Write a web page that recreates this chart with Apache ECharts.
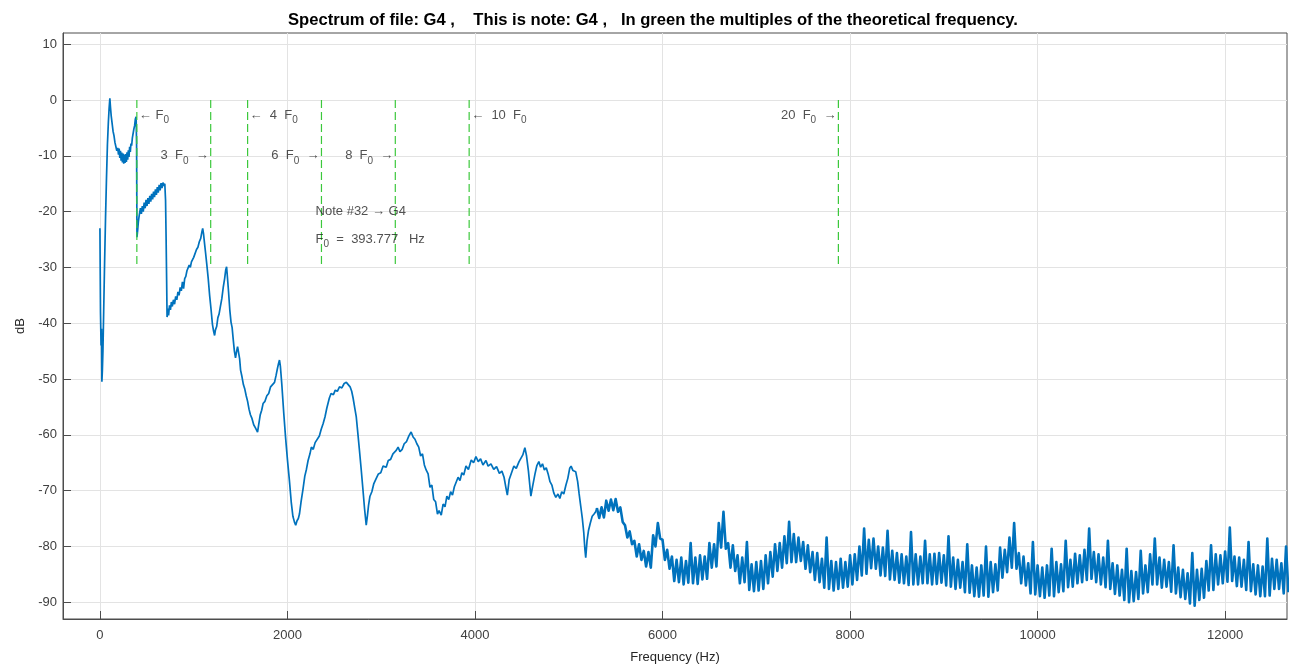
<!DOCTYPE html>
<html>
<head>
<meta charset="utf-8">
<script src="https://cdn.jsdelivr.net/npm/echarts@6/dist/echarts.min.js"></script>
<style>
  html, body { margin: 0; padding: 0; background: #ffffff; }
  #chart { width: 1291px; height: 669px; }
</style>
</head>
<body>
<div id="chart"></div>
<script>
// Fundamental of note #32 (G4), Hz
const F0 = 393.777;
const fileName = 'G4';
const noteNumber = 32;
const noteName = 'G4';

// Low part of the spectrum: [frequency Hz, level dB]
const spectrumHead = [
  [0,-23],[6,-38],[12,-44],[17,-41],[21,-50.5],[26,-48.5],[32,-45],[40,-38],[50,-29],[60,-21],
  [70,-14],[80,-8],[90,-4],[98,-1.5],[106,0.3],[112,-1.2],[120,-2.8],[130,-4.2],[140,-5.6],[150,-6.4],
  [160,-7.6],[170,-7.9],[180,-9.1],[190,-8.6],[198,-9.8],[205,-8.7],[212,-10.4],[219,-9.1],[226,-10.9],[233,-9.4],
  [240,-11.2],[247,-9.6],[254,-11.4],[261,-9.8],[268,-11.3],[275,-9.7],[282,-11.1],[289,-9.4],[296,-10.7],[303,-9.0],
  [310,-10.2],[317,-8.4],[324,-9.3],[331,-7.8],[338,-8.2],[346,-6.8],[354,-6.6],[362,-5.2],[370,-4.6],[378,-3.4],
  [386,-3.0],[391,-8],[395,-24.6],[402,-23.4],[410,-21.8],[420,-20.6],[432,-19.4],[442,-20.4],[452,-19.0],[462,-20.0],
  [472,-18.4],[482,-19.4],[492,-17.9],[502,-19.0],[512,-17.6],[522,-18.6],[532,-17.2],[542,-18.2],[552,-16.8],[562,-17.8],
  [572,-16.4],[582,-17.4],[592,-16.0],[602,-17.0],[612,-15.6],[622,-16.6],[632,-15.2],[642,-16.2],[652,-14.9],[662,-15.8],
  [672,-14.8],[682,-15.4],[692,-15.0],[700,-18],[706,-25],[712,-33],[716,-38.9],[724,-37.4],[732,-38.6],[742,-36.8],
  [752,-37.6],[762,-36.2],[772,-37.0],[784,-35.8],[796,-36.6],[808,-35.2],[820,-35.8],[832,-34.4],[844,-35.0],[856,-33.6],
  [868,-34.2],[880,-32.6],[892,-33.8],[904,-32.0],[916,-31.6],[928,-30.6],[940,-30.8],[952,-29.6],[964,-30.0],[976,-29.0],
  [988,-29.3],[1000,-28.2],[1015,-28.0],[1030,-26.8],[1045,-26.4],[1060,-25.4],[1075,-24.8],[1088,-23.6],[1096,-23.0],[1105,-24.0],
  [1115,-25.6],[1128,-27.6],[1140,-29.5],[1155,-32],[1170,-35],[1185,-37.5],[1200,-40.2],[1212,-41.4],[1223,-42.2],[1232,-41.2],
  [1245,-40.6],[1258,-39.0],[1270,-38.4],[1285,-37.0],[1300,-35.6],[1315,-33.6],[1330,-32.0],[1342,-30.4],[1351,-29.9],[1360,-31.8],
  [1372,-34.4],[1385,-37.6],[1398,-39.8],[1410,-40.8],[1422,-43.0],[1434,-45.0],[1446,-46.2],[1458,-45.0],[1468,-44.2],[1478,-45.2],
  [1490,-46.4],[1500,-48.4],[1515,-49.6],[1530,-51.0],[1545,-51.8],[1560,-53.0],[1575,-54.0],[1590,-55.4],[1605,-56.4],[1620,-57.0],
  [1640,-58.2],[1660,-58.8],[1681,-59.5],[1695,-58.0],[1710,-56.4],[1725,-55.6],[1740,-54.4],[1760,-54.0],[1780,-53.0],[1800,-52.6],
  [1820,-51.4],[1840,-51.2],[1862,-50.6],[1878,-49.4],[1892,-48.2],[1905,-47.2],[1915,-46.6],[1925,-47.8],[1940,-51],[1960,-56],
  [1980,-60.5],[2000,-64.5],[2021,-68.2],[2040,-72],[2058,-74.6],[2074,-75.6],[2088,-76.2],[2102,-75.4],[2116,-75.0],[2128,-74.2],
  [2145,-72.0],[2165,-69.8],[2185,-67.4],[2202,-66.2],[2220,-64.6],[2240,-63.4],[2255,-62.2],[2275,-62.6],[2295,-61.4],[2315,-61.2],
  [2340,-60.2],[2360,-59.0],[2380,-58.0],[2400,-56.8],[2420,-55.2],[2447,-53.4],[2465,-52.6],[2490,-52.8],[2510,-52.0],[2532,-52.2],
  [2555,-51.4],[2580,-51.6],[2605,-50.8],[2628,-50.6],[2648,-51.0],[2668,-51.4],[2685,-52.2],[2700,-53.4],[2718,-55.2],[2734,-56.8],
  [2750,-59.6],[2768,-62.8],[2787,-66.3],[2805,-69.8],[2822,-73.2],[2840,-76.2],[2852,-74.6],[2865,-72.6],[2880,-71.0],[2900,-70.2],
  [2920,-68.8],[2947,-67.8],[2970,-67.0],[2995,-66.8],[3020,-65.6],[3053,-65.8],[3075,-64.6],[3100,-64.4],[3125,-63.4],[3160,-62.8],
  [3180,-62.2],[3200,-63.0],[3224,-62.6],[3245,-61.6],[3270,-61.2],[3295,-60.2],[3319,-59.5],[3340,-60.4],[3360,-60.8],[3380,-61.6],
  [3400,-62.2],[3420,-63.8],[3440,-63.4],[3460,-65.4],[3479,-66.3],[3500,-67.0],[3520,-69.4],[3540,-69.0],[3560,-71.6],[3580,-72.0],
  [3600,-74.2],[3617,-73.6],[3640,-74.4],[3660,-72.4],[3680,-72.9],[3700,-71.0],[3720,-71.6],[3740,-70.2],[3760,-70.8],[3780,-69.3],
  [3800,-69.0],[3820,-67.6],[3840,-68.2],[3860,-66.8],[3880,-67.2],[3904,-65.6],[3930,-66.2],[3960,-64.5],[3985,-65.0],[4010,-63.9],
  [4035,-64.8],[4060,-64.3],[4085,-65.4],[4117,-64.6],[4140,-65.6],[4170,-65.2],[4200,-66.2],[4230,-65.7],[4260,-66.9],[4287,-66.5],
  [4310,-67.6],[4330,-69.5],[4345,-70.8],[4365,-68.0],[4390,-66.8],[4415,-65.6],[4440,-66.0],[4470,-64.8],[4490,-65.1],[4510,-63.6],
  [4532,-62.3],[4550,-63.8],[4570,-66.5],[4596,-71.0],[4615,-69.2],[4640,-67.0],[4660,-65.5],[4681,-64.8],[4700,-65.8],[4720,-65.2],
  [4740,-66.3],[4760,-65.9],[4780,-67.0],[4800,-68.4],[4820,-69.0],[4840,-70.4],[4862,-71.2],[4885,-70.6],[4905,-71.4],[4925,-70.2],
  [4947,-70.6],[4970,-69.0],[4990,-67.8],[5010,-66.0],[5025,-65.6],[5045,-66.4],[5074,-66.6],[5095,-68.4],[5110,-70.5],[5128,-72.8],
  [5145,-75.0],[5160,-77.5],[5172,-80.5],[5181,-82.0],[5195,-79.0],[5210,-77.2],[5230,-75.8],[5250,-74.6],[5270,-74.2],[5287,-73.8]
];

// Upper, noisy part: uniformly spaced bins
const tailStartHz = 5300;
const tailStepHz = 25;
const tailDb = [
  -73.1,-74.9,-73.0,-74.8, -71.8,-73.6,-71.6,-73.5, -71.5,-73.8,-73.0,-75.6, -76.2,-78.4,-77.3,-79.6,
  -79.0,-81.8,-79.6,-82.4, -80.8,-83.6,-81.0,-83.8, -78.0,-80.0,-75.8,-78.6, -78.8,-82.4,-80.6,-84.0,
  -81.8,-86.2,-82.4,-86.4, -82.0,-86.8,-82.6,-86.5, -79.4,-86.6,-82.0,-86.7, -81.6,-85.9,-81.8,-85.8,
  -79.4,-83.8,-79.6,-83.6, -75.8,-80.2,-73.8,-80.4, -79.4,-83.8,-79.8,-84.4, -81.6,-86.6,-82.0,-86.4,
  -79.2,-87.8,-83.2,-88.0, -82.8,-87.9,-82.6,-87.6, -81.6,-86.6,-81.0,-85.4, -79.6,-84.4,-79.4,-83.8,
  -78.2,-83.0,-75.6,-82.8, -77.8,-82.8,-78.4,-82.6, -79.2,-84.0,-79.8,-84.6, -81.0,-86.0,-81.2,-86.4,
  -82.2,-87.4,-78.4,-87.6, -82.6,-87.9,-82.8,-87.6, -82.2,-87.4,-82.8,-87.2, -81.6,-86.8,-81.4,-86.0,
  -80.0,-85.2,-76.8,-84.9, -78.8,-83.9,-78.6,-84.0, -80.0,-85.2,-80.2,-85.3, -77.2,-85.9,-80.8,-86.0,
  -81.2,-86.5,-81.4,-86.6, -81.8,-86.9,-77.4,-86.8, -81.4,-86.8,-81.8,-86.6, -79.0,-86.6,-81.4,-86.8,
  -81.3,-86.7,-81.2,-86.5, -81.6,-87.0,-78.2,-87.2, -82.0,-87.6,-82.4,-87.4, -82.8,-88.2,-79.6,-88.3,
  -83.4,-88.9,-83.8,-89.0, -83.4,-88.8,-80.0,-89.0, -82.8,-88.2,-83.2,-87.9, -80.2,-85.6,-80.6,-84.6,
  -78.4,-83.8,-75.8,-84.0, -81.2,-86.6,-81.8,-87.0, -83.0,-88.4,-79.2,-88.6, -83.4,-88.9,-83.8,-89.2,
  -83.4,-88.8,-80.4,-88.9, -82.8,-88.2,-83.2,-88.0, -79.0,-87.3,-82.4,-87.2, -81.3,-86.6,-81.6,-86.4,
  -80.6,-86.0,-76.8,-85.8, -81.0,-86.4,-81.4,-86.8, -82.0,-87.3,-79.0,-87.6, -83.0,-88.5,-83.4,-88.8,
  -84.2,-89.6,-80.4,-90.0, -84.4,-89.8,-84.6,-89.4, -80.8,-88.4,-83.4,-88.2, -81.4,-86.8,-78.6,-86.8,
  -82.0,-87.4,-82.4,-87.2, -82.8,-88.1,-79.8,-88.4, -83.8,-89.1,-84.2,-89.4, -84.8,-90.2,-81.2,-90.6,
  -84.2,-89.6,-84.0,-89.2, -82.6,-87.9,-79.8,-87.8, -81.4,-86.8,-81.6,-86.6, -80.9,-86.3,-76.6,-86.2,
  -81.8,-87.1,-82.0,-87.2, -82.4,-87.8,-79.2,-88.0, -83.2,-88.6,-83.4,-88.9, -83.6,-88.9,-78.6,-88.8,
  -82.2,-87.6,-82.4,-87.6, -83.0,-88.4,-80.0,-88.2
];

// Harmonics marked in green, with where their labels sit
const harmonicN = [1, 3, 4, 6, 8, 10, 20];
const harmonicLabelDb = [-2.7, -10, -2.7, -10, -10, -2.7, -2.7];
const harmonicLabelSide = ['right', 'left', 'right', 'left', 'left', 'right', 'left'];
const markerTopDb = 0;
const markerBottomDb = -30;

// Note annotation anchor (Hz, dB)
const noteTextHz = 2300;
const noteTextDb = [-20, -25];

// Axis ticks
const freqTicks = [0, 2000, 4000, 6000, 8000, 10000, 12000];
const dbTicks = [-90, -80, -70, -60, -50, -40, -30, -20, -10, 0, 10];
const freqMaxHz = 12660;
const dbRange = [-93, 12];

const FONT = '"Liberation Sans", Arial, Helvetica, sans-serif';
const TEXT_COLOR = '#262626';
const LINE_BLUE = '#0072BD';

const tailPoints = tailDb.map((v, i) => [tailStartHz + i * tailStepHz, v]);
// head keeps the first tail bin so the two pieces join
const headPoints = spectrumHead.concat([tailPoints[0]]);

const richStyles = {
  t: { fontSize: 13, fontFamily: FONT, color: TEXT_COLOR, lineHeight: 18 },
  s: { fontSize: 10, fontFamily: FONT, color: TEXT_COLOR, lineHeight: 20, verticalAlign: 'bottom' }
};
const F_SUB = '{t|F}{s|0}';
const ARROW_L = '\u2190';
const ARROW_R = '\u2192';

function harmonicText(n, side) {
  const mult = n === 1 ? ' ' : '  ' + n + '  ';
  return side === 'right'
    ? '{t|' + ARROW_L + mult + '}' + F_SUB
    : '{t|' + (n === 1 ? '' : n + '  ') + '}' + F_SUB + '{t|  ' + ARROW_R + '}';
}

const series = [];

series.push({
  name: 'spectrum',
  type: 'line',
  data: headPoints,
  showSymbol: false,
  symbol: 'none',
  sampling: false,
  clip: true,
  lineStyle: { color: LINE_BLUE, width: 1.7 },
  z: 2
});

// noisy upper band: same trace, drawn a little heavier
series.push({
  name: 'spectrum',
  type: 'line',
  data: tailPoints,
  showSymbol: false,
  symbol: 'none',
  sampling: false,
  clip: true,
  lineStyle: { color: LINE_BLUE, width: 2.6, join: 'round' },
  z: 2
});

harmonicN.forEach((n) => {
  series.push({
    type: 'line',
    data: [[n * F0, markerTopDb], [n * F0, markerBottomDb]],
    showSymbol: false,
    symbol: 'none',
    lineStyle: { color: '#3cc83c', width: 1.2, type: [8, 4] },
    z: 3
  });
});

series.push({
  type: 'scatter',
  symbolSize: 0,
  data: harmonicN.map((n, i) => ({
    value: [n * F0, harmonicLabelDb[i]],
    label: {
      show: true,
      position: harmonicLabelSide[i],
      distance: 2,
      formatter: harmonicText(n, harmonicLabelSide[i]),
      rich: richStyles
    }
  })),
  z: 4
});

series.push({
  type: 'scatter',
  symbolSize: 0,
  data: [
    { value: [noteTextHz, noteTextDb[0]],
      label: { show: true, position: 'right', distance: 0,
        formatter: '{t|Note #' + noteNumber + ' ' + ARROW_R + ' ' + noteName + '}', rich: richStyles } },
    { value: [noteTextHz, noteTextDb[1]],
      label: { show: true, position: 'right', distance: 0,
        formatter: F_SUB + '{t|  =  ' + F0.toFixed(3) + '   Hz}', rich: richStyles } }
  ],
  z: 4
});

const chart = echarts.init(document.getElementById('chart'), null, { renderer: 'canvas' });
chart.setOption({
  animation: false,
  backgroundColor: '#ffffff',
  title: {
    text: 'Spectrum of file: ' + fileName + ' ,    This is note: ' + noteName +
          ' ,   In green the multiples of the theoretical frequency.',
    left: 648,
    textAlign: 'center',
    top: 7,
    textStyle: { fontFamily: FONT, fontSize: 16.6, fontWeight: 'bold', color: '#000000' }
  },
  grid: {
    left: 63, right: 4, top: 33, bottom: 50,
    show: true, borderColor: '#4d4d4d', borderWidth: 1, backgroundColor: '#ffffff'
  },
  xAxis: {
    type: 'value',
    min: -F0,
    max: freqMaxHz,
    name: 'Frequency (Hz)',
    nameLocation: 'middle',
    nameGap: 32,
    nameTextStyle: { fontFamily: FONT, fontSize: 13, color: TEXT_COLOR },
    axisLine: { show: true, onZero: false, lineStyle: { color: '#4d4d4d', width: 1 } },
    axisTick: { show: true, inside: true, length: 8, customValues: freqTicks, lineStyle: { color: '#4d4d4d' } },
    axisLabel: {
      customValues: freqTicks, margin: 10, fontFamily: FONT, fontSize: 13, color: '#404040',
      formatter: (v) => String(v)
    },
    splitLine: { show: true, lineStyle: { color: '#e3e3e3', width: 1 } }
  },
  yAxis: {
    type: 'value',
    min: dbRange[0],
    max: dbRange[1],
    name: 'dB',
    nameLocation: 'middle',
    nameGap: 26,
    nameTextStyle: { fontFamily: FONT, fontSize: 13, color: TEXT_COLOR },
    axisLine: { show: true, onZero: false, lineStyle: { color: '#4d4d4d', width: 1 } },
    axisTick: { show: true, inside: true, length: 8, customValues: dbTicks, lineStyle: { color: '#4d4d4d' } },
    axisLabel: { customValues: dbTicks, margin: 6, fontFamily: FONT, fontSize: 13, color: '#404040' },
    splitLine: { show: true, lineStyle: { color: '#e3e3e3', width: 1 } }
  },
  series: series
});
</script>
</body>
</html>
